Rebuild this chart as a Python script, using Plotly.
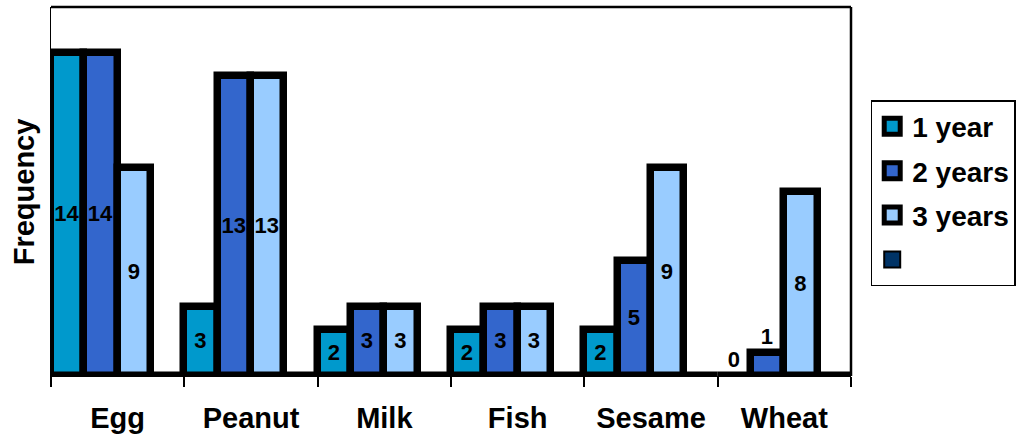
import plotly.graph_objects as go

# Allergen categories and frequency per age group
categories = ["Egg", "Peanut", "Milk", "Fish", "Sesame", "Wheat"]
one_year = [14, 3, 2, 2, 2, 0]
two_years = [14, 13, 3, 3, 5, 1]
three_years = [9, 13, 3, 3, 9, 8]
extra_series = [0, 0, 0, 0, 0, 0]

series_names = ["1 year", "2 years", "3 years", " "]
series_values = [one_year, two_years, three_years, extra_series]
series_colors = ["#0099CC", "#3366CC", "#99CCFF", "#003366"]

FONT = "Liberation Sans, Arial, sans-serif"

fig = go.Figure()

for name, vals, color in zip(series_names, series_values, series_colors):
    is_blank = name.strip() == ""
    fig.add_trace(go.Bar(
        x=categories,
        y=vals,
        name=name,
        marker=dict(color=color, line=dict(color="black", width=7.5)),
        text=None if is_blank else [str(v) for v in vals],
        textposition=None if is_blank else ["inside" if v >= 2 else "outside" for v in vals],
        insidetextanchor="middle",
        textangle=0,
        constraintext="none",
        cliponaxis=False,
        textfont=dict(family=FONT, size=22, color="black", weight="bold"),
        showlegend=False,
        hoverinfo="skip",
    ))

# Legend swatches
for i, (name, color) in enumerate(zip(series_names, series_colors)):
    is_blank = name.strip() == ""
    fig.add_trace(go.Scatter(
        x=[None], y=[None], mode="markers", name=name,
        legendgroup=f"g{i}",
        marker=dict(symbol="square", size=16, color=color,
                    line=dict(color="black", width=2 if is_blank else 5)),
        hoverinfo="skip",
    ))

fig.update_layout(
    width=1016,
    height=441,
    margin=dict(l=51, r=165, t=7, b=65),
    paper_bgcolor="white",
    plot_bgcolor="white",
    barmode="group",
    bargap=0,
    bargroupgap=0,
    font=dict(family=FONT, color="black"),
    showlegend=True,
    legend=dict(
        xref="container", yref="container",
        x=0.857, y=0.773, xanchor="left", yanchor="top",
        bgcolor="white", bordercolor="black", borderwidth=1.5,
        font=dict(family=FONT, size=28, color="black", weight="bold"),
        tracegroupgap=5,
        itemclick=False, itemdoubleclick=False,
    ),
    xaxis=dict(
        type="category",
        categoryorder="array",
        categoryarray=categories,
        automargin=False,
        showline=True, linecolor="black", linewidth=1,
        ticks="outside", tickson="boundaries", ticklen=10, tickwidth=1.5, tickcolor="black",
        ticklabelstandoff=16,
        tickfont=dict(family=FONT, size=29, color="black", weight="bold"),
        showgrid=False, zeroline=False,
        fixedrange=True,
    ),
    yaxis=dict(
        range=[0, 16],
        automargin=False,
        showline=True, linecolor="black", linewidth=1,
        showticklabels=False, ticks="",
        showgrid=False, zeroline=False,
        fixedrange=True,
    ),
    shapes=[
        dict(type="line", xref="paper", yref="paper", x0=0, x1=1, y0=1, y1=1,
             line=dict(color="black", width=2.5)),
        dict(type="line", xref="paper", yref="paper", x0=1, x1=1, y0=0, y1=1,
             line=dict(color="black", width=2.5)),
    ],
    annotations=[
        dict(text="Frequency", xref="paper", yref="paper", x=-0.034, y=0.5,
             xanchor="center", yanchor="middle", textangle=-90, showarrow=False,
             font=dict(family=FONT, size=29, color="black", weight="bold")),
    ],
)

fig.write_html("out.html")
